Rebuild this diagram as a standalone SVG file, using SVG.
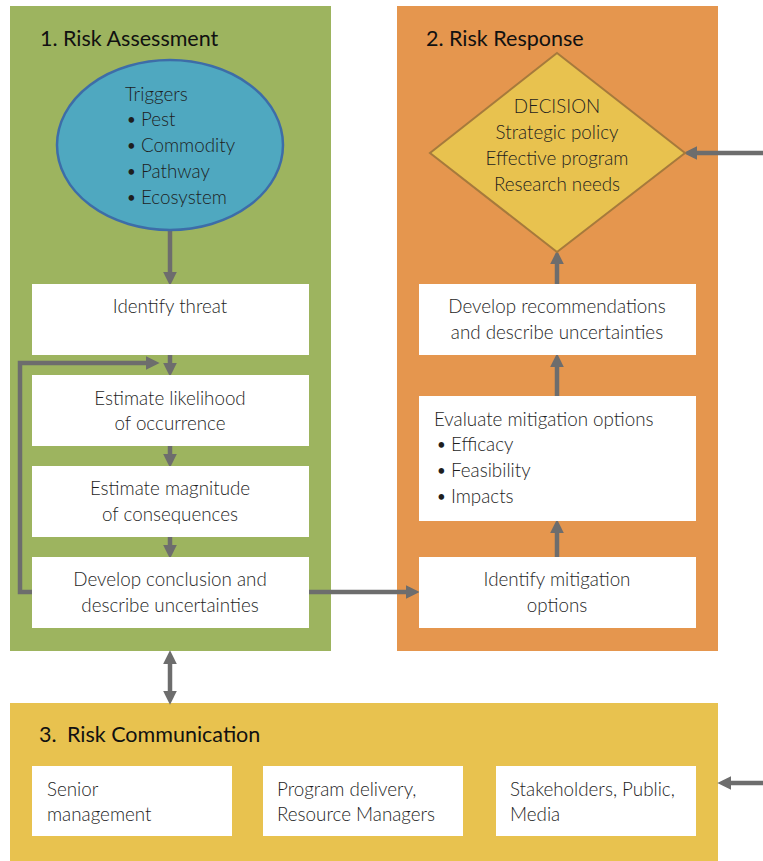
<svg xmlns="http://www.w3.org/2000/svg" width="763" height="861" viewBox="0 0 763 861">
<defs>
<style>
.t{font-family:Lato,"Open Sans","Liberation Sans",sans-serif;font-size:18.8px;font-weight:300;fill:#1e1e1e}
.b{font-family:Lato,"Open Sans","Liberation Sans",sans-serif;font-size:15px;fill:#1e1e1e}
.h{font-family:Lato,"Open Sans","Liberation Sans",sans-serif;font-size:21.5px;fill:#111}
.c{text-anchor:middle}
.box{fill:#ffffff}
.ln{fill:none;stroke:#6d6d6d;stroke-width:4.5}
</style>
<marker id="ah" markerUnits="userSpaceOnUse" markerWidth="14" markerHeight="14" refX="2" refY="6" orient="auto-start-reverse" viewBox="0 0 12 12">
<path d="M0,0 L12,6 L0,12 z" fill="#6d6d6d"/>
</marker>
</defs>
<rect width="763" height="861" fill="#ffffff"/>
<g id="panel-assessment">
<rect x="10" y="6" width="321" height="645" fill="#9db45f"/>
<text class="h" x="40" y="46">1. Risk Assessment</text>
</g>
<g id="panel-response">
<rect x="397" y="6" width="321" height="645" fill="#e5964e"/>
<text class="h" x="426" y="46">2. Risk Response</text>
</g>
<g id="panel-communication">
<rect x="10" y="703" width="708" height="158" fill="#e8c24f"/>
<text class="h" y="742"><tspan x="39">3.</tspan><tspan x="67">Risk Communication</tspan></text>
</g>
<g id="connectors">
<path class="ln" d="M170,230 V274" marker-end="url(#ah)"/>
<path class="ln" d="M170,354 V365" marker-end="url(#ah)"/>
<path class="ln" d="M170,445 V456" marker-end="url(#ah)"/>
<path class="ln" d="M170,536 V547" marker-end="url(#ah)"/>
<path class="ln" d="M32,592 H20 V363 H148" marker-end="url(#ah)"/>
<path class="ln" d="M309,592 H408" marker-end="url(#ah)"/>
<path class="ln" d="M557,557 V531" marker-end="url(#ah)"/>
<path class="ln" d="M557,396 V365" marker-end="url(#ah)"/>
<path class="ln" d="M557,284 V262" marker-end="url(#ah)"/>
<path class="ln" d="M763,153 H695" marker-end="url(#ah)"/>
<path class="ln" d="M170,662 V693" marker-start="url(#ah)" marker-end="url(#ah)"/>
<path class="ln" d="M763,783 H729" marker-end="url(#ah)"/>
</g>
<g id="triggers">
<ellipse cx="170" cy="145" rx="113" ry="85" fill="#4fa8c0" stroke="#3d6da8" stroke-width="2.5"/>
<text class="t" x="125" y="101">Triggers</text>
<text class="b" x="127" y="125">•</text><text class="t" x="141" y="126">Pest</text>
<text class="b" x="127" y="151">•</text><text class="t" x="141" y="152">Commodity</text>
<text class="b" x="127" y="177">•</text><text class="t" x="141" y="178">Pathway</text>
<text class="b" x="127" y="203">•</text><text class="t" x="141" y="204">Ecosystem</text>
</g>
<g id="identify-threat">
<rect class="box" x="32" y="284" width="277" height="71"/>
<text class="t c" x="170" y="313">Identify threat</text>
</g>
<g id="estimate-likelihood">
<rect class="box" x="32" y="375" width="277" height="71"/>
<text class="t c" x="170" y="405">Estimate likelihood</text>
<text class="t c" x="170" y="430">of occurrence</text>
</g>
<g id="estimate-magnitude">
<rect class="box" x="32" y="466" width="277" height="71"/>
<text class="t c" x="170" y="495">Estimate magnitude</text>
<text class="t c" x="170" y="521">of consequences</text>
</g>
<g id="develop-conclusion">
<rect class="box" x="32" y="557" width="277" height="71"/>
<text class="t c" x="170" y="586">Develop conclusion and</text>
<text class="t c" x="170" y="612">describe uncertainties</text>
</g>
<g id="decision">
<polygon points="557,53 685,153 557,252 430,153" fill="#e8c24f" stroke="#a67a3c" stroke-width="2"/>
<text class="t c" x="557" y="113">DECISION</text>
<text class="t c" x="557" y="139">Strategic policy</text>
<text class="t c" x="557" y="165">Effective program</text>
<text class="t c" x="557" y="191">Research needs</text>
</g>
<g id="develop-recommendations">
<rect class="box" x="419" y="284" width="277" height="71"/>
<text class="t c" x="557" y="313">Develop recommendations</text>
<text class="t c" x="557" y="339">and describe uncertainties</text>
</g>
<g id="evaluate-mitigation">
<rect class="box" x="419" y="396" width="277" height="125"/>
<text class="t" x="434" y="426">Evaluate mitigation options</text>
<text class="b" x="437" y="450">•</text><text class="t" x="451" y="451">Efficacy</text>
<text class="b" x="437" y="476">•</text><text class="t" x="451" y="477">Feasibility</text>
<text class="b" x="437" y="502">•</text><text class="t" x="451" y="503">Impacts</text>
</g>
<g id="identify-mitigation">
<rect class="box" x="419" y="557" width="277" height="71"/>
<text class="t c" x="557" y="586">Identify mitigation</text>
<text class="t c" x="557" y="612">options</text>
</g>
<g id="senior-management">
<rect class="box" x="32" y="766" width="200" height="70"/>
<text class="t" x="47" y="796">Senior</text>
<text class="t" x="47" y="821">management</text>
</g>
<g id="program-delivery">
<rect class="box" x="263" y="766" width="200" height="70"/>
<text class="t" x="277" y="796">Program delivery,</text>
<text class="t" x="277" y="821">Resource Managers</text>
</g>
<g id="stakeholders">
<rect class="box" x="496" y="766" width="200" height="70"/>
<text class="t" x="510" y="796">Stakeholders, Public,</text>
<text class="t" x="510" y="821">Media</text>
</g>
</svg>
